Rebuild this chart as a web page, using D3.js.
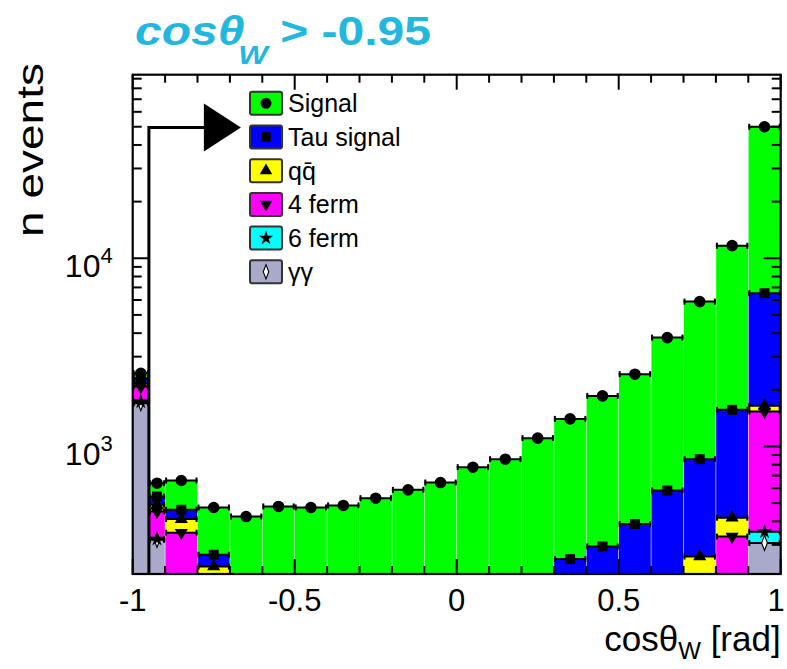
<!DOCTYPE html>
<html><head><meta charset="utf-8">
<script src="https://cdn.jsdelivr.net/npm/d3@7"></script>
<style>body{margin:0;background:#fff} text{font-family:"Liberation Sans",Arial,Helvetica,sans-serif}</style>
</head><body><svg id="c" width="787" height="669"></svg>
<script>
// ---- data ----
const binEdges = [-1,-0.95,-0.9,-0.8,-0.7,-0.6,-0.5,-0.4,-0.3,-0.2,-0.1,0,0.1,0.2,0.3,0.4,0.5,0.6,0.7,0.8,0.9,1.0];
const gammaGamma = [1698,319,40,20,10,10,10,10,10,10,10,10,10,10,10,10,10,10,20,60,307];
const sixFerm    = [28,3,2,2,1,1,1,1,1,1,1,1,1,1,1,1,1,1,2,20,45];
const fourFerm   = [355,129,306,173,20,20,20,20,20,20,20,20,20,20,20,20,20,20,150,252,1180];
const qqbar      = [88,39,63,35,10,10,10,10,10,10,10,10,10,10,10,10,10,10,88,86,111];
const tauSignal  = [138,52,50,36,15,15,18,20,25,30,40,55,80,120,211,253,346,542,596,1147,4877];
const signal     = [142,96,198,208,368,424,415,425,465,517,562,680,735,946,1149,1562,2034,3204,5027,10105,43480];
const seriesNames = ["γγ","6 ferm","4 ferm","qq̄","Tau signal","Signal"]; // bottom -> top
const seriesColors = ["#a9a9c9","#00ffff","#ff00ff","#ffff00","#0000ff","#00ff00"];
const seriesSymbols = ["diamond","star","triDown","triUp","square","circle"];
const legendOrder = ["Signal","Tau signal","qq̄","4 ferm","6 ferm","γγ"];
const xTickValues = [-1,-0.5,0,0.5,1];
const xTickLabels = ["-1","-0.5","0","0.5","1"];
const yMajorTicks = [1000,10000];
const cutValue = -0.95;
const yDomain = [210,94500];

// ---- layout ----
const L=132.7, R=780.7, T=74.7, B=574;
const svg = d3.select("#c");
const x = d3.scaleLinear().domain([-1,1]).range([L,R]);
const y = d3.scaleLog().domain(yDomain).range([B,T]);

const seriesVals=[gammaGamma,sixFerm,fourFerm,qqbar,tauSignal,signal];
const rows = signal.map((_,i)=>{const o={i}; seriesNames.forEach((n,k)=>o[n]=seriesVals[k][i]); return o;});
const stacked = d3.stack().keys(seriesNames)(rows);

svg.append("defs").append("clipPath").attr("id","pc").append("rect")
  .attr("x",L).attr("y",T).attr("width",R-L).attr("height",B-T);

const yMinor=[];
for(let d=100; d<=100000; d*=10){ for(let m=2;m<=9;m++){const v=m*d; if(v>yDomain[0]&&v<yDomain[1]) yMinor.push(v);} }
const xMinor=d3.range(-10,11).map(v=>v/10).filter(v=>!xTickValues.some(t=>Math.abs(t-v)<1e-9));

// left ticks (under bars)
const gAx = svg.append("g").attr("stroke","#000").attr("stroke-width",2);
yMajorTicks.forEach(v=>gAx.append("line").attr("x1",L).attr("x2",L+17).attr("y1",y(v)).attr("y2",y(v)));
yMinor.forEach(v=>gAx.append("line").attr("x1",L).attr("x2",L+9).attr("y1",y(v)).attr("y2",y(v)));

// bars
const gBars = svg.append("g").attr("clip-path","url(#pc)");
stacked.forEach((layer,k)=>{
  gBars.selectAll(null).data(layer).enter().append("rect")
    .attr("x",d=>x(binEdges[d.data.i])+0.3)
    .attr("width",d=>x(binEdges[d.data.i+1])-x(binEdges[d.data.i])-0.6)
    .attr("y",d=>y(Math.max(Math.min(d[1],yDomain[1]),yDomain[0])))
    .attr("height",d=>Math.max(0,y(Math.max(d[0],yDomain[0]))-y(Math.max(Math.min(d[1],yDomain[1]),yDomain[0]))))
    .attr("fill",seriesColors[k]);
});

function symPath(name, s){
  const sz = s||1;
  switch(name){
    case "circle": return d3.symbol(d3.symbolCircle, 105*sz)();
    case "square": return d3.symbol(d3.symbolSquare, 100*sz)();
    case "triUp": return d3.symbol(d3.symbolTriangle, 75*sz)();
    case "triDown": return d3.symbol(d3.symbolTriangle, 75*sz)();
    case "star": return d3.symbol(d3.symbolStar, 70*sz)();
    case "diamond": return d3.symbol(d3.symbolDiamond, 45*sz)();
  }
}
const gM = svg.append("g").attr("clip-path","url(#pc)");
stacked.forEach((layer,k)=>{
  layer.forEach(d=>{
    const i=d.data.i, yy=y(d[1]);
    const x0=x(binEdges[i]), x1=x(binEdges[i+1]), xc=(x0+x1)/2;
    gM.append("line").attr("x1",x0).attr("x2",x1).attr("y1",yy).attr("y2",yy).attr("stroke","#000").attr("stroke-width",2);
    gM.append("line").attr("x1",x0+1).attr("x2",x0+1).attr("y1",yy-3).attr("y2",yy+3).attr("stroke","#000").attr("stroke-width",2);
    gM.append("line").attr("x1",x1-1).attr("x2",x1-1).attr("y1",yy-3).attr("y2",yy+3).attr("stroke","#000").attr("stroke-width",2);
    const p = gM.append("path").attr("d",symPath(seriesSymbols[k]))
      .attr("transform",`translate(${xc},${yy})`+(seriesSymbols[k]==="triDown"?" rotate(180)":"")+(seriesSymbols[k]==="diamond"?" scale(0.8,1.2)":""));
    if(seriesSymbols[k]==="diamond") p.attr("fill","#fff").attr("stroke","#000").attr("stroke-width",1.3);
    else p.attr("fill","#000");
  });
});

// other ticks (over bars)
const gAx2 = svg.append("g").attr("stroke","#000").attr("stroke-width",2);
yMajorTicks.forEach(v=>gAx2.append("line").attr("x1",R).attr("x2",R-17).attr("y1",y(v)).attr("y2",y(v)));
yMinor.forEach(v=>gAx2.append("line").attr("x1",R).attr("x2",R-9).attr("y1",y(v)).attr("y2",y(v)));
xTickValues.forEach(v=>{
  gAx2.append("line").attr("x1",x(v)).attr("x2",x(v)).attr("y1",B).attr("y2",B-15);
  gAx2.append("line").attr("x1",x(v)).attr("x2",x(v)).attr("y1",T).attr("y2",T+15);
});
xMinor.forEach(v=>{
  gAx2.append("line").attr("x1",x(v)).attr("x2",x(v)).attr("y1",B).attr("y2",B-8);
  gAx2.append("line").attr("x1",x(v)).attr("x2",x(v)).attr("y1",T).attr("y2",T+8);
});
svg.append("rect").attr("x",L).attr("y",T).attr("width",R-L).attr("height",B-T)
  .attr("fill","none").attr("stroke","#000").attr("stroke-width",2.2);

// cut arrow
const xc = x(cutValue), ya=127.5;
svg.append("path").attr("d",`M${xc},${B} L${xc},${ya} L${xc+56},${ya}`).attr("fill","none").attr("stroke","#000").attr("stroke-width",3);
svg.append("path").attr("d",`M${xc+55},${ya-24} L${xc+92},${ya} L${xc+55},${ya+24} Z`).attr("fill","#000");

// tick labels
xTickValues.forEach((v,i)=>{
  svg.append("text").attr("x",Math.min(x(v),776)).attr("y",611).attr("text-anchor","middle").attr("font-size",31).text(xTickLabels[i]);
});
yMajorTicks.forEach(v=>{
  const t=svg.append("text").attr("x",L-20).attr("y",y(v)+19).attr("text-anchor","end").attr("font-size",32);
  t.append("tspan").text("10");
  t.append("tspan").attr("dy",-14).attr("font-size",22).text(String(Math.round(Math.log10(v))));
});

// axis titles
const xt = svg.append("text").attr("x",R).attr("y",651).attr("text-anchor","end").attr("font-size",35);
xt.append("tspan").text("cosθ");
xt.append("tspan").attr("dy",8).attr("font-size",24).text("W");
xt.append("tspan").attr("dy",-8).text(" [rad]");
svg.append("text").attr("transform","translate(43,237) rotate(-90)").attr("text-anchor","start").attr("font-size",36)
  .attr("textLength",174).attr("lengthAdjust","spacingAndGlyphs").text("n events");

// legend
const lg = svg.append("g");
legendOrder.forEach((name,j)=>{
  const k = seriesNames.indexOf(name);
  const cy = 103.3 + j*33.7;
  lg.append("rect").attr("x",250).attr("y",cy-11.5).attr("width",32).attr("height",23).attr("rx",2)
    .attr("fill",seriesColors[k]).attr("stroke","#333").attr("stroke-width",2);
  const p = lg.append("path").attr("d",symPath(seriesSymbols[k],0.9))
    .attr("transform",`translate(266,${cy})`+(seriesSymbols[k]==="triDown"?" rotate(180)":"")+(seriesSymbols[k]==="diamond"?" scale(0.8,1.2)":""));
  if(seriesSymbols[k]==="diamond") p.attr("fill","#fff").attr("stroke","#000").attr("stroke-width",1.3);
  else p.attr("fill","#000");
  lg.append("text").attr("x",288).attr("y",cy+9).attr("font-size",25).text(name);
});

// title (horizontally stretched like the reference)
const tg = svg.append("g").attr("transform","translate(135,0) scale(1.2,1)");
const tt = tg.append("text").attr("y",45).attr("fill","#22b7df").attr("font-weight","bold").attr("font-size",40);
tt.append("tspan").attr("x",0).attr("font-style","italic").text("cosθ");
tt.append("tspan").attr("x",86).attr("y",64).attr("font-style","italic").attr("font-size",26).text("W");
tt.append("tspan").attr("x",121).attr("y",45).text("> -0.95");
</script></body></html>
